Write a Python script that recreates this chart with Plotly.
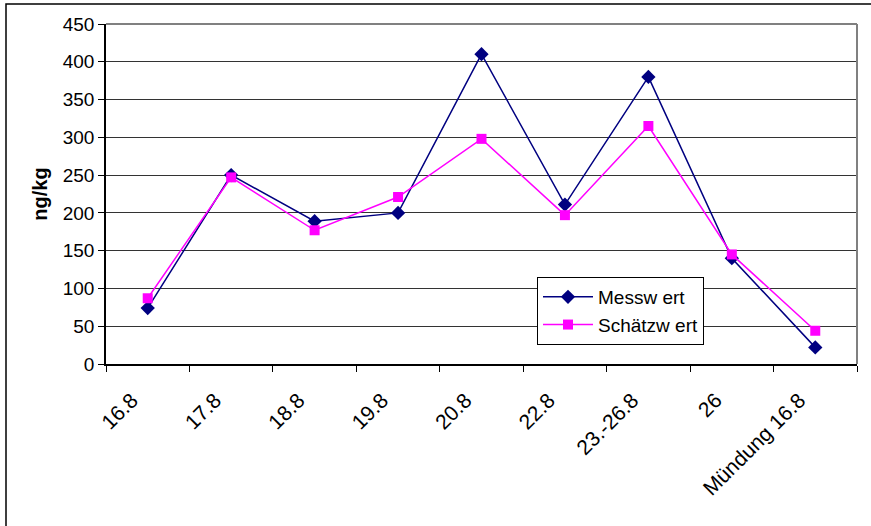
import plotly.graph_objects as go

categories = ["16.8", "17.8", "18.8", "19.8", "20.8", "22.8", "23.-26.8", "26", "Mündung 16.8"]
messwert = [74, 250, 189, 200, 410, 211, 380, 140, 22]
schaetzwert = [87, 247, 177, 221, 298, 197, 315, 145, 44]
y_ticks = [0, 50, 100, 150, 200, 250, 300, 350, 400, 450]

W, H = 871, 526
L, R, T, B = 106, 14, 24, 162
pw, ph = W - L - R, H - T - B

def px(x):
    return (x - L) / pw

def py(y):
    return (H - B - y) / ph

font = "Liberation Sans, Arial, sans-serif"

fig = go.Figure()
fig.add_trace(go.Scatter(
    x=categories, y=messwert, name="Messw ert", mode="lines+markers",
    line=dict(color="#000080", width=1.5),
    marker=dict(symbol="diamond", size=11, color="#000080"),
))
fig.add_trace(go.Scatter(
    x=categories, y=schaetzwert, name="Schätzw ert", mode="lines+markers",
    line=dict(color="#FF00FF", width=1.5),
    marker=dict(symbol="square", size=10, color="#FF00FF"),
))

fig.update_layout(
    width=W, height=H,
    margin=dict(l=L, r=R, t=T, b=B),
    paper_bgcolor="white", plot_bgcolor="white",
    font=dict(family=font, size=19, color="black"),
    showlegend=True,
    legend=dict(
        x=px(537), y=py(277), xanchor="left", yanchor="top",
        bordercolor="black", borderwidth=1, bgcolor="white",
        font=dict(size=19), tracegroupgap=0, itemwidth=50,
    ),
    xaxis=dict(
        type="category", range=[-0.5, 8.5],
        tickangle=-45, ticks="outside", ticklen=6, tickcolor="black",
        tickson="boundaries", showgrid=False,
        showline=True, linecolor="black", linewidth=1.5,
        tickfont=dict(size=21),
        ticklabelshift=-16, ticklabelstandoff=14,
    ),
    yaxis=dict(
        range=[0, 450], tickvals=y_ticks,
        ticks="outside", ticklen=6, tickcolor="black",
        showgrid=True, gridcolor="#333333", gridwidth=1,
        showline=True, linecolor="black", linewidth=1.5,
        zeroline=False,
        title=dict(text="<b>ng/kg</b>", font=dict(size=20), standoff=10),
        tickfont=dict(size=19),
    ),
    shapes=[
        dict(type="line", xref="paper", yref="paper", x0=0, x1=1, y0=1, y1=1,
             line=dict(color="#808080", width=2)),
        dict(type="line", xref="paper", yref="paper", x0=1, x1=1, y0=0, y1=1,
             line=dict(color="#808080", width=2)),
        dict(type="rect", xref="paper", yref="paper",
             x0=px(6), x1=px(880), y0=py(535), y1=py(4),
             line=dict(color="black", width=1.5), layer="below"),
    ],
)

fig.write_html(
    "out.html",
    config={"displayModeBar": False},
    post_script="document.body.style.margin='0';document.body.style.overflow='hidden';",
)
